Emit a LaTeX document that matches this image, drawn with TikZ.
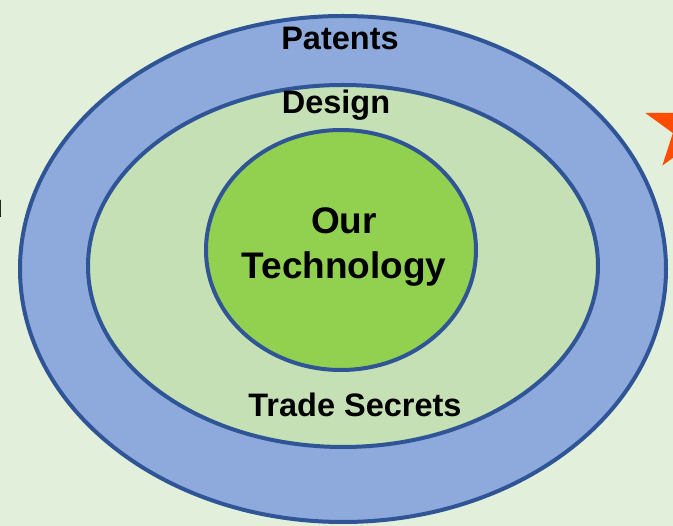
\documentclass[tikz,border=0pt]{standalone}
\usepackage{fontspec}
\setmainfont{Liberation Sans}
\usetikzlibrary{calc}
\definecolor{bgc}{HTML}{E2EFDA}
\definecolor{outerc}{HTML}{8EA9DB}
\definecolor{borderc}{HTML}{2F5597}
\definecolor{midc}{HTML}{C5E0B4}
\definecolor{innerc}{HTML}{92D050}
\definecolor{starc}{HTML}{FF4C00}
\tikzset{
  ring/.style={draw=borderc, line width=4pt},
  lbl/.style={font=\fontsize{32.5}{36}\selectfont\bfseries, text=black, inner sep=0pt},
  biglbl/.style={font=\fontsize{37}{45}\selectfont\bfseries, text=black, inner sep=0pt, align=center}
}
\begin{document}
\begin{tikzpicture}[x=1pt,y=-1pt]
\fill[bgc] (0,0) rectangle (673,526);
\useasboundingbox (0,0) rectangle (673,526);
% star (partly outside)
\coordinate (sc) at (690,127.5);
\fill[starc] ($(sc)+(90:47pt)$) \foreach \a in {90,162,...,378} { -- ($(sc)+(\a:47pt)$) -- ($(sc)+(\a+36:18pt)$) } -- cycle;
\node[lbl, anchor=base east] (frag) at (3.5,218) {u};
\fill[outerc] (343,269) ellipse [x radius=323pt, y radius=253pt];
\draw[ring] (343,269) ellipse [x radius=323pt, y radius=253pt];
\fill[midc] (343,266) ellipse [x radius=255pt, y radius=181pt];
\draw[ring] (343,266) ellipse [x radius=255pt, y radius=181pt];
\fill[innerc] (341,250) ellipse [x radius=135pt, y radius=120pt];
\draw[ring] (341,250) ellipse [x radius=135pt, y radius=120pt];
\node[lbl] (patents) at (340,38) {Patents};
\node[lbl] (design) at (336,105) {Design};
\node[lbl] (trade) at (355,405) {Trade Secrets};
\node[biglbl] (tech) at (344,247) {Our\\Technology};
\end{tikzpicture}
\end{document}
